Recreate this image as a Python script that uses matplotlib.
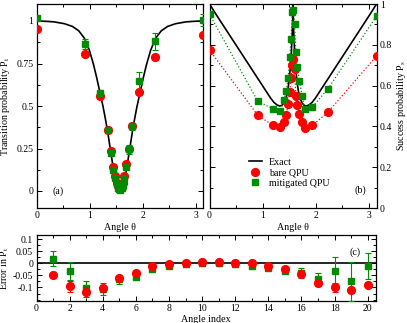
import numpy as np
import matplotlib
matplotlib.use("Agg")
import matplotlib.pyplot as plt
from matplotlib.ticker import MultipleLocator
from matplotlib.lines import Line2D

plt.rcParams["font.family"] = ["Liberation Serif", "DejaVu Serif"]
plt.rcParams["mathtext.fontset"] = "stix"

RED = "#ff0000"
GREEN = "#008b00"

# --- data -----------------------------------------------------------------
angles = [0.0, 0.905, 1.195, 1.335, 1.40, 1.445, 1.48, 1.51, 1.535, 1.555,
          1.58, 1.60, 1.625, 1.655, 1.69, 1.74, 1.80, 1.935, 2.23, 3.1416]

# panel (a): transition probability
pt_bare = [0.951, 0.806, 0.56, 0.36, 0.233, 0.14, 0.088, 0.05, 0.03, 0.02,
           0.015, 0.025, 0.045, 0.088, 0.157, 0.245, 0.38, 0.58, 0.786, 0.918]
pt_bare_err = [0.008, 0.01, 0.01, 0.008, 0.008, 0.006, 0.006, 0.005, 0.005, 0.005,
               0.005, 0.005, 0.005, 0.006, 0.008, 0.008, 0.01, 0.012, 0.012, 0.01]
pt_mit = [1.02, 0.865, 0.578, 0.36, 0.225, 0.124, 0.075, 0.04, 0.02, 0.01,
          0.008, 0.015, 0.035, 0.075, 0.14, 0.245, 0.38, 0.65, 0.88, 1.005]
pt_mit_err = [0.01, 0.03, 0.015, 0.01, 0.01, 0.01, 0.01, 0.005, 0.005, 0.005,
              0.005, 0.005, 0.005, 0.01, 0.01, 0.025, 0.02, 0.05, 0.05, 0.035]

exact_a_theta = [0.0, 0.121, 0.321, 0.521, 0.671, 0.791, 0.901, 0.991, 1.071, 1.131,
                 1.191, 1.251, 1.291, 1.331, 1.361, 1.391, 1.421, 1.451, 1.481, 1.511,
                 1.541, 1.5708, 1.601, 1.631, 1.661, 1.691, 1.721, 1.751, 1.781, 1.811,
                 1.851, 1.891, 1.951, 2.011, 2.071, 2.151, 2.241, 2.351, 2.471, 2.621,
                 2.821, 3.021, 3.1416]
exact_a = [1.0, 0.999, 0.995, 0.984, 0.968, 0.942, 0.897, 0.828, 0.742, 0.665,
           0.58, 0.495, 0.43, 0.36, 0.30, 0.24, 0.18, 0.122, 0.073, 0.034,
           0.009, 0.0, 0.009, 0.034, 0.073, 0.122, 0.18, 0.24, 0.30, 0.36,
           0.43, 0.495, 0.58, 0.665, 0.742, 0.828, 0.897, 0.942, 0.968, 0.984,
           0.995, 0.999, 1.0]

# panel (b): success probability
ps_bare = [0.775, 0.455, 0.405, 0.395, 0.42, 0.455, 0.51, 0.57, 0.635, 0.70,
           0.73, 0.68, 0.55, 0.505, 0.46, 0.42, 0.39, 0.405, 0.47, 0.745]
ps_mit = [0.95, 0.525, 0.485, 0.475, 0.53, 0.575, 0.635, 0.74, 0.83, 0.96,
          0.97, 0.90, 0.765, 0.69, 0.625, 0.55, 0.485, 0.495, 0.585, 0.94]

exact_b_theta = [0.0, 0.121, 0.271, 0.421, 0.571, 0.721, 0.871, 1.021, 1.151, 1.211,
                 1.271, 1.321, 1.361, 1.401, 1.441, 1.471, 1.496, 1.521, 1.541, 1.556,
                 1.565, 1.5708, 1.577, 1.586, 1.601, 1.621, 1.646, 1.671, 1.701, 1.741,
                 1.781, 1.821, 1.871, 1.931, 1.991, 2.121, 2.271, 2.421, 2.571, 2.721,
                 2.871, 3.021, 3.1416]
exact_b = [1.0, 0.95, 0.89, 0.83, 0.77, 0.71, 0.65, 0.59, 0.538, 0.518,
           0.505, 0.5, 0.503, 0.515, 0.54, 0.575, 0.62, 0.69, 0.77, 0.85,
           0.92, 1.0, 0.92, 0.85, 0.77, 0.69, 0.62, 0.575, 0.54, 0.515,
           0.503, 0.5, 0.505, 0.518, 0.538, 0.59, 0.65, 0.71, 0.77, 0.83,
           0.89, 0.95, 1.0]

# panel (c): error in P_t vs angle index
index = list(range(1, 21))
err_bare = [-0.049, -0.095, -0.118, -0.101, -0.06, -0.04, -0.012, -0.005, 0.001, 0.004,
            0.004, 0.001, 0.001, -0.01, -0.025, -0.045, -0.081, -0.1, -0.111, -0.088]
err_bare_e = [0.005, 0.022, 0.02, 0.01, 0.008, 0.006, 0.004, 0.004, 0.003, 0.003,
              0.003, 0.003, 0.003, 0.004, 0.005, 0.008, 0.012, 0.02, 0.012, 0.012]
err_mit = [0.019, -0.033, -0.101, -0.108, -0.067, -0.056, -0.022, -0.012, -0.004, 0.001,
           0.001, -0.004, -0.01, -0.019, -0.032, -0.04, -0.067, -0.033, -0.074, -0.011]
err_mit_e = [0.032, 0.038, 0.028, 0.025, 0.02, 0.006, 0.005, 0.004, 0.003, 0.003,
             0.003, 0.003, 0.004, 0.005, 0.006, 0.02, 0.025, 0.058, 0.08, 0.054]

# --- figure ---------------------------------------------------------------
W, H = 407, 323
fig = plt.figure(figsize=(W / 100, H / 100), dpi=100)


def box(l, t, r, b):
    return [l / W, 1 - b / H, (r - l) / W, (b - t) / H]


ax_a = fig.add_axes(box(37, 4, 203, 208))
ax_b = fig.add_axes(box(209.5, 4, 376.5, 208))
ax_c = fig.add_axes(box(36.5, 235, 376, 301))

fs_tick = 7.0
fs_lab = 7.2
ms_c = 5.6
ms_s = 5.0


def style(ax):
    ax.tick_params(which="both", direction="in", top=True, right=True,
                   labelsize=fs_tick, width=0.7, pad=2.5)
    ax.tick_params(which="major", length=3.5)
    ax.tick_params(which="minor", length=2)
    for s in ax.spines.values():
        s.set_linewidth(0.9)


# (a)
ax = ax_a
ax.plot(exact_a_theta, exact_a, color="black", lw=1.2, zorder=2)
ax.errorbar(angles, pt_bare, yerr=pt_bare_err, fmt="o", color=RED, ms=ms_c,
            capsize=2, elinewidth=0.8, capthick=0.8, zorder=3)
ax.errorbar(angles, pt_mit, yerr=pt_mit_err, fmt="s", color=GREEN, ms=ms_s,
            capsize=2, elinewidth=0.8, capthick=0.8, zorder=4)
ax.set_xlim(0, np.pi)
ax.set_ylim(-0.1, 1.1)
ax.xaxis.set_minor_locator(MultipleLocator(0.5))
ax.yaxis.set_minor_locator(MultipleLocator(0.125))
ax.set_yticks([0, 0.25, 0.5, 0.75, 1])
ax.set_yticklabels(["0", "0.25", "0.5", "0.75", "1"])
ax.set_xticks([0, 1, 2, 3])
ax.set_xticklabels(["0", "1", "2", "3"])
ax.set_xlabel("Angle θ", fontsize=fs_lab, labelpad=2)
ax.set_ylabel("Transition probability P$_\\mathrm{t}$", fontsize=fs_lab, labelpad=3)
ax.text(0.3, 0.0, "(a)", fontsize=fs_lab, ha="left", va="center")
style(ax)

# (b)
ax = ax_b
ax.plot(exact_b_theta, exact_b, color="black", lw=1.2, zorder=2)
ax.plot(angles, ps_bare, ":", color=RED, lw=0.9, zorder=2)
ax.plot(angles, ps_mit, ":", color=GREEN, lw=0.9, zorder=2)
ax.plot(angles, ps_bare, "o", color=RED, ms=ms_c, zorder=3)
ax.plot(angles, ps_mit, "s", color=GREEN, ms=ms_s, zorder=4)
ax.set_xlim(0, np.pi)
ax.set_ylim(0, 1)
ax.set_xticks([0, 1, 2, 3])
ax.set_xticklabels(["0", "1", "2", "3"])
ax.xaxis.set_minor_locator(MultipleLocator(0.5))
ax.set_yticks([0, 0.2, 0.4, 0.6, 0.8, 1])
ax.set_yticklabels(["0", "0.2", "0.4", "0.6", "0.8", "1"])
ax.yaxis.set_minor_locator(MultipleLocator(0.1))
style(ax)
ax.tick_params(labelleft=False, labelright=True)
ax.yaxis.set_label_position("right")
ax.set_ylabel("Success probability P$_\\mathrm{s}$", fontsize=fs_lab, labelpad=2)
ax.set_xlabel("Angle θ", fontsize=fs_lab, labelpad=2)
ax.text(2.72, 0.085, "(b)", fontsize=fs_lab, ha="left", va="center")
handles = [Line2D([], [], color="black", lw=1.2),
           Line2D([], [], ls="none", marker="o", color=RED, ms=ms_c),
           Line2D([], [], ls="none", marker="s", color=GREEN, ms=ms_s)]
ax.legend(handles, ["Exact", "bare QPU", "mitigated QPU"], loc="lower left",
          bbox_to_anchor=(0.205, 0.075), frameon=False, fontsize=fs_lab,
          handlelength=1.3, handletextpad=0.7, labelspacing=0.15, borderpad=0)

# (c)
ax = ax_c
ax.axhline(0, color="black", lw=1.2, zorder=1)
ax.errorbar(index, err_bare, yerr=err_bare_e, fmt="o", color=RED, ms=ms_c,
            capsize=2, elinewidth=0.8, capthick=0.8, zorder=4)
ax.errorbar(index, err_mit, yerr=err_mit_e, fmt="s", color=GREEN, ms=ms_s,
            capsize=2, elinewidth=0.8, capthick=0.8, zorder=3)
ax.set_xlim(0, 20.5)
ax.set_ylim(-0.156, 0.117)
ax.set_xticks(range(0, 21, 2))
ax.xaxis.set_minor_locator(MultipleLocator(1))
ax.set_yticks([-0.1, -0.05, 0, 0.05, 0.1])
ax.set_yticklabels(["-0.1", "-0.05", "0", "0.05", "0.1"])
ax.yaxis.set_minor_locator(MultipleLocator(0.025))
ax.set_xlabel("Angle index", fontsize=fs_lab, labelpad=1)
ax.set_ylabel("Error in P$_\\mathrm{t}$", fontsize=fs_lab, labelpad=1)
ax.text(18.9, 0.047, "(c)", fontsize=fs_lab, ha="left", va="center")
style(ax)

fig.savefig("out.png", dpi=100)
